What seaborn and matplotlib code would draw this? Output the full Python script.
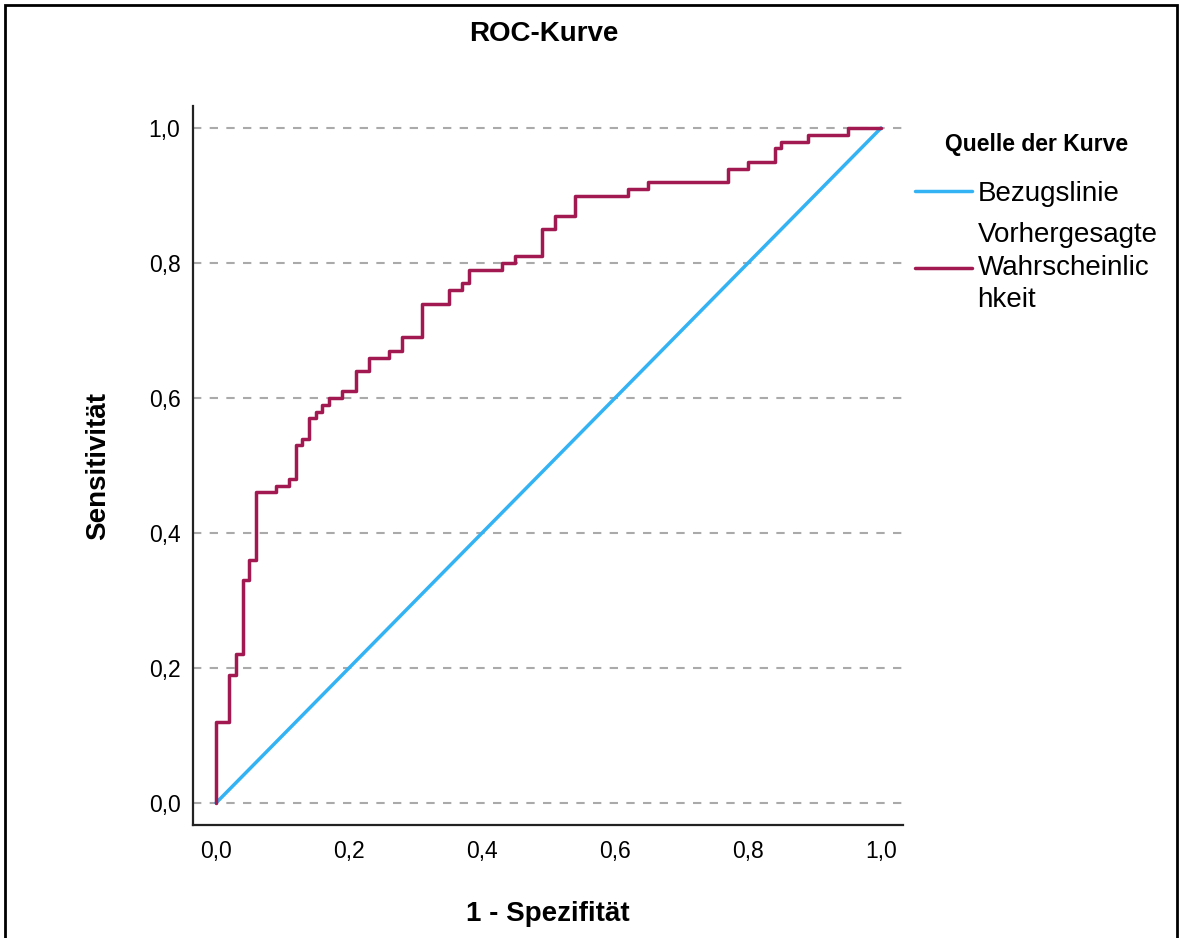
import pandas as pd
import matplotlib
matplotlib.use("Agg")
import matplotlib.pyplot as plt
import seaborn as sns
from matplotlib.patches import Rectangle
from matplotlib.ticker import FuncFormatter

# ROC step vertices (1 - specificity, sensitivity)
fpr = [0.00, 0.00, 0.02, 0.03, 0.04, 0.05, 0.06, 0.09, 0.11, 0.12, 0.13, 0.14,
       0.15, 0.16, 0.17, 0.19, 0.21, 0.23, 0.26, 0.28, 0.31, 0.35, 0.37, 0.38,
       0.43, 0.45, 0.49, 0.51, 0.54, 0.62, 0.65, 0.77, 0.80, 0.84, 0.85, 0.89,
       0.95, 1.00]
tpr = [0.00, 0.12, 0.19, 0.22, 0.33, 0.36, 0.46, 0.47, 0.48, 0.53, 0.54, 0.57,
       0.58, 0.59, 0.60, 0.61, 0.64, 0.66, 0.67, 0.69, 0.74, 0.76, 0.77, 0.79,
       0.80, 0.81, 0.85, 0.87, 0.90, 0.91, 0.92, 0.94, 0.95, 0.97, 0.98, 0.99,
       1.00, 1.00]
ref_x = [0.0, 1.0]
ref_y = [0.0, 1.0]
ticks = [0.0, 0.2, 0.4, 0.6, 0.8, 1.0]

label_ref = "Bezugslinie"
label_roc = "Vorhergesagte\nWahrscheinlic\nhkeit"

sns.set_style("white")
plt.rcParams["font.family"] = ["Liberation Sans", "DejaVu Sans"]
plt.rcParams["text.color"] = "black"
plt.rcParams["axes.labelcolor"] = "black"

fig = plt.figure(figsize=(11.79, 9.38), dpi=100)
ax = fig.add_axes([193 / 1179, 1 - 825 / 938, 710 / 1179, 719 / 938])

roc = pd.DataFrame({"x": fpr, "y": tpr})
ref = pd.DataFrame({"x": ref_x, "y": ref_y})

sns.lineplot(data=ref, x="x", y="y", ax=ax, color="#33b3f4", lw=2.5,
             label=label_ref, estimator=None, sort=False, zorder=3)
sns.lineplot(data=roc, x="x", y="y", ax=ax, color="#a21850", lw=2.5,
             label=label_roc, estimator=None, sort=False,
             drawstyle="steps-post", zorder=4)

ax.set_xlim(-0.0346, 1.033)
ax.set_ylim(-0.0326, 1.0326)
ax.set_xticks(ticks)
ax.set_yticks(ticks)
fmt = FuncFormatter(lambda v, p: f"{v:.1f}".replace(".", ","))
ax.xaxis.set_major_formatter(fmt)
ax.yaxis.set_major_formatter(fmt)
ax.tick_params(axis="both", length=0, labelsize=16.5, colors="black")
ax.tick_params(axis="x", pad=11)
ax.tick_params(axis="y", pad=9)

for t in ticks:
    ax.axhline(t, color="#aaaaaa", lw=1.5, ls=(0, (4, 4)), zorder=1)

for s in ["top", "right"]:
    ax.spines[s].set_visible(False)
for s in ["left", "bottom"]:
    ax.spines[s].set_color("#222222")
    ax.spines[s].set_linewidth(1.6)

ax.set_xlabel("1 - Spezifität", fontsize=20, fontweight="bold", labelpad=27)
ax.set_ylabel("Sensitivität", fontsize=20, fontweight="bold", labelpad=27)
fig.text(544 / 1179, 1 - 34 / 938, "ROC-Kurve", fontsize=20, fontweight="bold",
         ha="center", va="center")

leg = ax.legend(title="Quelle der Kurve", loc="upper left",
                bbox_to_anchor=(908 / 1179, 1 - 126 / 938),
                bbox_transform=fig.transFigure, frameon=False,
                fontsize=20, title_fontproperties={"weight": "bold", "size": 16.5},
                handlelength=2.05, handletextpad=0.2, labelspacing=0.55,
                borderpad=0.25, borderaxespad=0)
leg._legend_box.sep = 18
for txt in leg.get_texts():
    txt.set_linespacing(1.32)

fig.patches.append(Rectangle((5 / 1179, -0.01), 1172 / 1179, 1 - 5 / 938 + 0.01,
                             transform=fig.transFigure, fill=False,
                             edgecolor="black", lw=2))

fig.savefig("out.png", dpi=100)
